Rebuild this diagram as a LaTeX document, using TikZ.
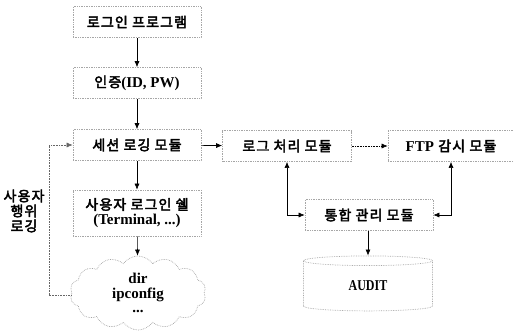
\documentclass[tikz,border=0pt]{standalone}
\usepackage{fontspec}
\setmainfont{Liberation Serif}
\newfontfamily\kr{Noto Sans CJK KR}[AutoFakeBold=3,LetterSpace=8]
\usetikzlibrary{arrows.meta,shapes.symbols,shapes.geometric}
\tikzset{
  box/.style={draw=gray!70, densely dotted, line width=0.7pt, minimum width=128pt, minimum height=31pt, inner sep=0pt, align=center, font=\kr\bfseries\fontsize{14}{16}\selectfont},
  conn/.style={-{Latex[length=6pt,width=5pt]}, line width=0.6pt, black},
  dconn/.style={{Latex[length=6pt,width=5pt]}-{Latex[length=6pt,width=5pt]}, line width=0.6pt, black},
  dotconn/.style={conn, densely dotted}
}
\newcommand{\lt}{\rmfamily\bfseries\fontsize{15}{16}\selectfont}
\begin{document}
\begin{tikzpicture}[x=1pt,y=-1pt]
\useasboundingbox (0,0) rectangle (514,333);
\node[box] (login) at (137,22) {로그인 프로그램};
\node[box] (auth) at (137,83) {인증{\lt(ID, PW)}};
\node[box] (sess) at (137,145) {세션 로깅 모듈};
\node[box, minimum height=46pt] (shell) at (137,213) {사용자 로그인 쉘\\[-1pt]{\lt(Terminal, ...)}};
\node[cloud, cloud puffs=14, cloud puff arc=110, aspect=2.2, draw=gray!70, densely dotted, line width=0.7pt, minimum width=136pt, minimum height=74pt, inner sep=0pt, align=center, font=\lt] (cmd) at (138,293) {dir\\[-1pt]ipconfig\\[-2pt]...};
\node[box, minimum width=129pt] (proc) at (287,146) {로그 처리 모듈};
\node[box, minimum width=126pt] (ftp) at (451,146) {{\lt FTP} 감시 모듈};
\node[box, minimum width=128pt] (mgmt) at (369,215) {통합 관리 모듈};
\node[cylinder, shape border rotate=90, aspect=0.25, draw=gray!70, densely dotted, line width=0.7pt, minimum width=129pt, minimum height=55pt, inner sep=0pt, font=\lt] (audit) at (368,286) {\scalebox{0.8}[1]{AUDIT}};
\node[font=\kr\bfseries\fontsize{14}{15}\selectfont, align=center, inner sep=0pt] (lbl) at (24,211) {사용자\\행위\\로깅};
\coordinate (c1) at (49,295);
\coordinate (c2) at (49,145);
\draw[conn] (login) -- (auth);
\draw[conn] (auth) -- (sess);
\draw[conn] (sess) -- (shell);
\draw[conn] (shell) -- (cmd);
\draw[conn, densely dotted, draw=gray!80!black] (cmd.west |- c1) -- (c1) -- (c2) -- (sess.west);
\draw[conn] (sess) -- (proc);
\draw[dotconn] (proc) -- (ftp);
\draw[dconn] (proc.south) |- (mgmt.west);
\draw[dconn] (ftp.south) |- (mgmt.east);
\draw[conn] (mgmt.south -| audit.north) -- (audit.north);
\end{tikzpicture}
\end{document}
